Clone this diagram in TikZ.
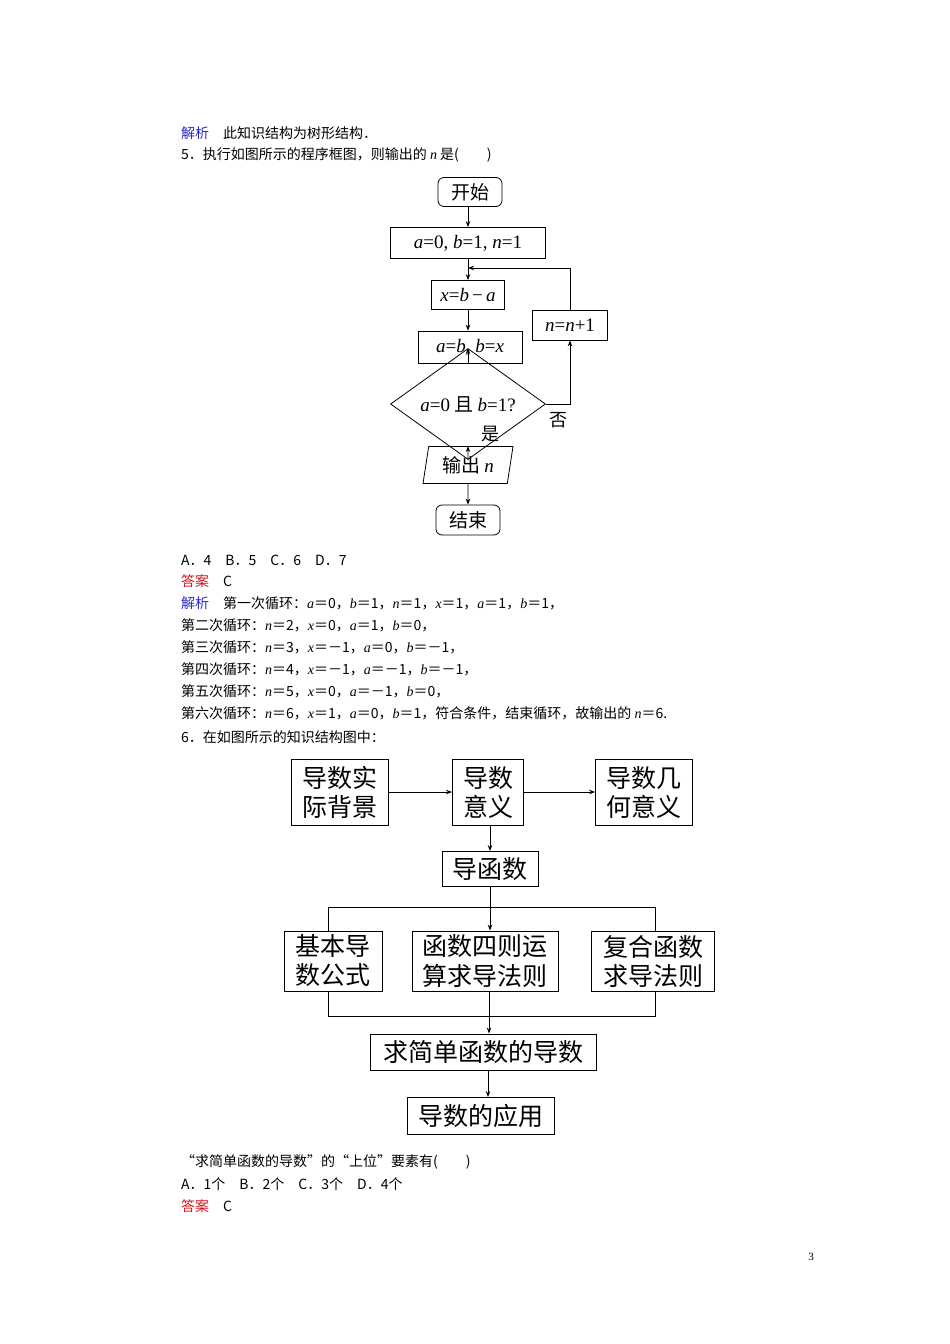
\documentclass[tikz,border=0pt]{standalone}
\usepackage{fontspec}
\setmainfont{Liberation Serif}
\newfontfamily\cjk{Noto Sans CJK SC}
\newfontfamily\lat{Liberation Serif}
\newcommand{\vv}[1]{{\lat\itshape #1}}
\newcommand{\rr}[1]{{\lat #1}}
\usetikzlibrary{shapes.geometric,arrows.meta}
\definecolor{jblue}{RGB}{40,40,200}
\definecolor{jred}{RGB}{210,20,30}
\begin{document}
\begin{tikzpicture}[x=1pt,y=1pt,
  line/.style={anchor=west,inner sep=0,font=\cjk\fontsize{14}{16}\selectfont},
  fc/.style={draw,line width=0.8pt,inner sep=0,font=\cjk\fontsize{19}{21}\selectfont},
  kb/.style={draw,line width=0.9pt,inner sep=0,align=center,font=\cjk\fontsize{25}{29}\selectfont},
  arr/.style={line width=0.8pt,-{Stealth[length=6pt,width=4.5pt]}},
  ln/.style={line width=0.8pt}]
\useasboundingbox (0,0) rectangle (950,-1344);
\fill[white] (0,0) rectangle (950,-1344);
% text lines
\node[line] (t1) at (181,-133) {\textcolor{jblue}{解析}\quad 此知识结构为树形结构．};
\node[line] (t2) at (181,-155) {5．执行如图所示的程序框图，则输出的 \vv{n} 是(\qquad )};
\node[line] (t3) at (181,-560) {A．4\quad B．5\quad C．6\quad D．7};
\node[line] (t4) at (181,-581) {\textcolor{jred}{答案}\quad C};
\node[line] (t5) at (181,-603) {\textcolor{jblue}{解析}\quad 第一次循环：\vv{a}＝0，\vv{b}＝1，\vv{n}＝1，\vv{x}＝1，\vv{a}＝1，\vv{b}＝1，};
\node[line] (t6) at (181,-625) {第二次循环：\vv{n}＝2，\vv{x}＝0，\vv{a}＝1，\vv{b}＝0，};
\node[line] (t7) at (181,-647) {第三次循环：\vv{n}＝3，\vv{x}＝－1，\vv{a}＝0，\vv{b}＝－1，};
\node[line] (t8) at (181,-669) {第四次循环：\vv{n}＝4，\vv{x}＝－1，\vv{a}＝－1，\vv{b}＝－1，};
\node[line] (t9) at (181,-691) {第五次循环：\vv{n}＝5，\vv{x}＝0，\vv{a}＝－1，\vv{b}＝0，};
\node[line] (t10) at (181,-713) {第六次循环：\vv{n}＝6，\vv{x}＝1，\vv{a}＝0，\vv{b}＝1，符合条件，结束循环，故输出的 \vv{n}＝6.};
\node[line] (t11) at (181,-737) {6．在如图所示的知识结构图中：};
\node[line] (t12) at (181,-1162) {“求简单函数的导数”的“上位”要素有(\qquad )};
\node[line] (t13) at (181,-1184) {A．1个\quad B．2个\quad C．3个\quad D．4个};
\node[line] (t14) at (181,-1206) {\textcolor{jred}{答案}\quad C};
\node[inner sep=0,font=\fontsize{11}{12}\selectfont] (pg) at (811,-1257) {3};
% flowchart
\coordinate (col) at (468,0);
\node[fc,rounded corners=6pt,minimum width=64pt,minimum height=29pt] (s) at (470,-192) {开始};
\node[fc,minimum width=155pt,minimum height=31pt] (i) at (468,-243) {\rr{\vv{a}=0, \vv{b}=1, \vv{n}=1}};
\node[fc,minimum width=73pt,minimum height=29pt] (x) at (468,-295) {\rr{\vv{x}=\vv{b}\,−\,\vv{a}}};
\node[fc,minimum width=104pt,minimum height=32pt] (ab) at (470,-347) {\rr{\vv{a}=\vv{b}, \vv{b}=\vv{x}}};
\node[fc,diamond,minimum width=155pt,minimum height=44pt] (d) at (468,-404) {\rr{\vv{a}=0} 且 \rr{\vv{b}=1?}};
\node[fc,trapezium,trapezium left angle=72,trapezium right angle=108,trapezium stretches body,minimum width=90pt,minimum height=37pt] (o) at (468,-465) {输出 \vv{n}};
\node[fc,rounded corners=6pt,minimum width=64pt,minimum height=30pt] (e) at (468,-520) {结束};
\node[fc,minimum width=75pt,minimum height=30pt] (nn) at (570,-325) {\rr{\vv{n}=\vv{n}+1}};
\coordinate (j) at (468,-268);
\draw[arr] (s.south -| col) -- (i.north -| col);
\draw[arr] (i.south -| col) -- (x.north);
\draw[arr] (x.south) -- (ab.north -| col);
\draw[arr] (ab.south -| col) -- (d.north);
\draw[arr] (d.south) -- (o.north);
\draw[arr] (o.south) -- (e.north);
\draw[arr] (d.east) -| (nn.south);
\draw[arr] (nn.north) |- (j);
\node[inner sep=0,font=\cjk\fontsize{18}{20}\selectfont] (no) at (558,-420) {否};
\node[inner sep=0,font=\cjk\fontsize{18}{20}\selectfont] (yes) at (490,-434) {是};
% knowledge diagram
\coordinate (m1) at (490,0);
\coordinate (m2) at (489,0);
\coordinate (m3) at (488,0);
\node[kb,minimum width=97pt,minimum height=66pt] (k1) at (340,-792) {导数实\\际背景};
\node[kb,minimum width=71pt,minimum height=66pt] (k2) at (488,-792) {导数\\意义};
\node[kb,minimum width=97pt,minimum height=66pt] (k3) at (644,-792) {导数几\\何意义};
\node[kb,minimum width=96pt,minimum height=35pt] (k4) at (490,-869) {导函数};
\node[kb,minimum width=98pt,minimum height=60pt] (k5) at (333,-961) {基本导\\数公式};
\node[kb,minimum width=146pt,minimum height=60pt] (k6) at (485,-961) {函数四则运\\算求导法则};
\node[kb,minimum width=123pt,minimum height=60pt] (k7) at (653,-961) {复合函数\\求导法则};
\node[kb,minimum width=226pt,minimum height=36pt] (k8) at (483,-1052) {求简单函数的导数};
\node[kb,minimum width=147pt,minimum height=37pt] (k9) at (481,-1116) {导数的应用};
\draw[arr] (k1) -- (k2);
\draw[arr] (k2) -- (k3);
\draw[arr] (k2.south -| m1) -- (k4.north -| m1);
\coordinate (b1) at (328,-907);
\coordinate (b2) at (655,-907);
\coordinate (c1) at (328,-1016);
\coordinate (c2) at (655,-1016);
\draw[ln] (k5.north -| b1) -- (b1) -- (b2) -- (k7.north -| b2);
\draw[arr] (k4.south -| m1) -- (k6.north -| m1);
\draw[ln] (k5.south -| c1) -- (c1) -- (c2) -- (k7.south -| c2);
\draw[arr] (k6.south -| m2) -- (k8.north -| m2);
\draw[arr] (k8.south -| m3) -- (k9.north -| m3);
\end{tikzpicture}
\end{document}
